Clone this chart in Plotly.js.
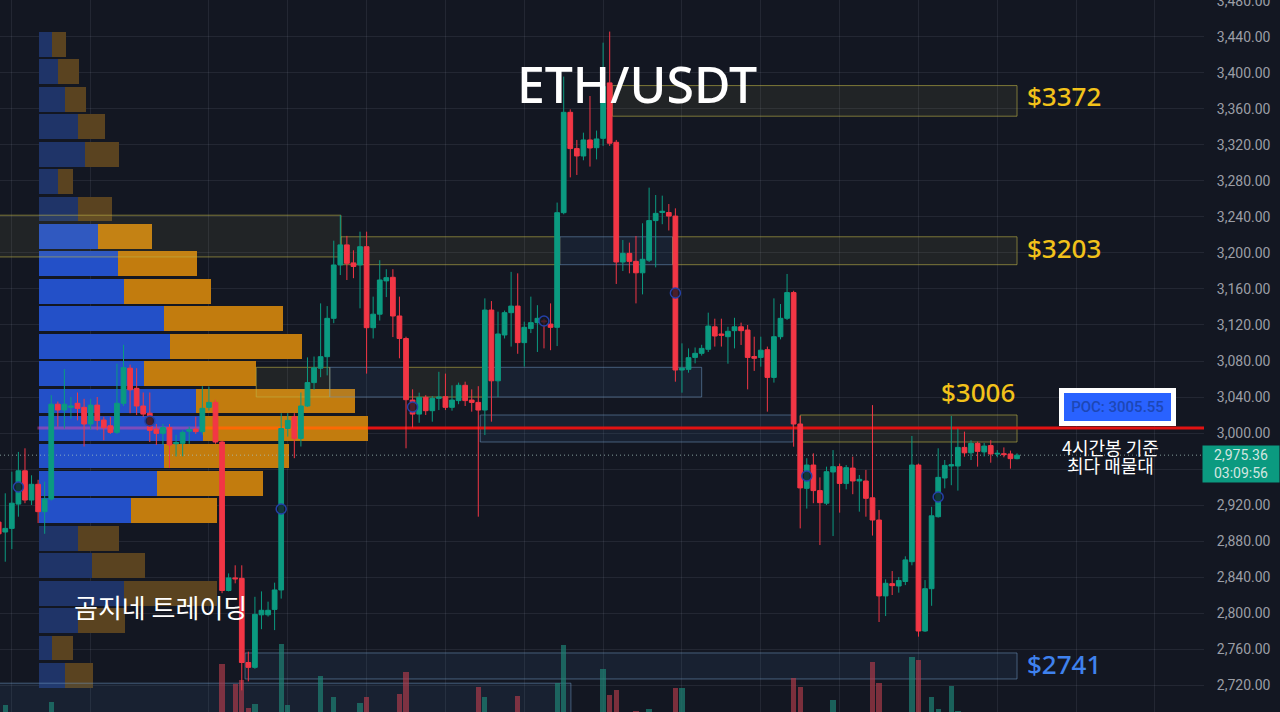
<!DOCTYPE html>
<html>
<head>
<meta charset="utf-8">
<script src="https://cdn.plot.ly/plotly-3.0.1.min.js"></script>
<style>html,body{margin:0;padding:0;background:#131722;overflow:hidden}</style>
</head>
<body>
<div id="chart" style="width:1280px;height:712px"></div>
<script>
// candles, oldest first (bar number = position in the array)
let opens = [
  2901,2890,2894,2921,2958,2925.5,2943,2912.6,2926.6,3032,
  3025.6,3028.5,3033,3028.5,3010,3031,3014.4,3008,3000.7,3033,
  3072,3049.6,3030,3022,3004.4,2999.6,3006,2988,2988.5,3002,
  3004.4,3001.5,3028.5,3034,2990,2825,2839,2838.5,2745,2739.6,
  2798,2798,2804,2825.6,3005,3018,2994,3030,3056,3072,
  3084.8,3127.4,3186.7,3209,3189,3186.7,3207,3117,3132,3169,
  3173,3130,3105,3036.6,3021,3039.6,3024.8,3038.5,3040.3,3028.5,
  3036,3053,3036.6,3034,3025.5,3136.6,3058,3108.9,3133.7,3141,
  3100.4,3116,3122.6,3124.6,3121,3117.4,3244.8,3356.3,3316,3307.8,
  3325.6,3317,3327.4,3389,3323,3190,3199.6,3190.7,3178,3192,
  3236,3245,3245,3241,3070,3070.7,3084,3088.5,3093,3118,
  3110,3107,3113.7,3118,3114.4,3085,3084,3092.5,3061.8,3107,
  3127.4,3156,3010,2938.5,2964.4,2936,2922,2956.7,2962.6,2944,
  2961,2946.7,2946.7,2928,2903.3,2819,2832.6,2830,2835,2857,
  2964.4,2780,2827,2907,2950,2963.3,2963.3,2984,2978,2988.5,
  2979,2986,2976.6,2977,2976.7,2971.5
];
let highs = [
  2908,2933,2957,2979,2983,2953,2948,2946,3042,3035,
  3071,3040,3045,3038,3038,3040,3018,3018,3077,3098,
  3076,3072,3045,3045,3010,3010,3010,2998,3003,3007,
  3018,3052,3051.5,3037,2992,2844,2853,2853,2757,2818,
  2824,2812.6,2833.7,3022,3022,3022,3045,3084,3085,3144,
  3141,3213.7,3242,3219,3203,3223.7,3223.7,3151.5,3192,3182,
  3182,3151.5,3107,3048.5,3044.8,3042,3041,3068,3066,3053,
  3056,3057,3048.5,3052,3149.6,3146.6,3134.8,3136,3179,3177.4,
  3123.7,3151.5,3142,3127,3144,3256,3396,3359.6,3325.6,3333.7,
  3374.4,3336,3433.7,3446,3325.6,3214.4,3211.5,3218.9,3233,3272.6,
  3264.4,3263.7,3254.4,3249.6,3099.6,3094,3095,3098,3133.7,3127,
  3127,3118,3128,3122.6,3120,3107,3107,3096,3149.6,3143.3,
  3176.7,3158,3019,2972,2977.4,2950.7,2962.6,2981,2966,2964.4,
  2973.7,2953.3,2959,3031,2914.4,2837.4,2846.6,2840,2863,2996.7,
  2966,2836.6,2918,2983,2970,3019,3005,3001.5,2992,2990.4,
  2989,2992,2981,2984,2980.4,2977.4
];
let lows = [
  2861,2857,2871,2907,2922,2920,2900,2888,2925,3007,
  3005,3016,3014,2985,3004,3003,2992,2999,2999,3030,
  3022,3020,3018,2990,2986.7,2986.7,2961,2974,2974,2988,
  2999,2998,3025,2988,2822,2824,2833,2714,2724,2738,
  2782,2796,2781,2816,2996,2972,2985,3029,3048,3062,
  3064,3122,3175.5,3170,3172,3138.5,3066,3105,3125,3151,
  3106.6,3083,2983,3006,3011.4,3020,3012.6,3025.5,3025.5,3024.8,
  3032,3030,3023.7,2907,2997.7,3012.6,3040,3105,3096,3088,
  3073.7,3111,3090,3094,3092,3096.6,3243,3284,3286.7,3303,
  3296,3304,3319,3319,3165.6,3180,3177.4,3144,3154,3190,
  3184,3232,3225,3057,3044.8,3067,3077.4,3086,3090,3096,
  3096,3077,3094,3097.8,3048.5,3069,3073.7,3023.7,3056,3104,
  3125.5,2984.8,2894,2916,2922,2875.5,2920,2885.5,2911.5,2937.4,
  2932,2912.6,2907,2886,2790,2796.6,2820,2822.6,2831,2853,
  2773.7,2779,2808,2906,2938.5,2942,2936,2973.7,2970,2962.6,
  2974,2967,2973,2973,2960.4,2970.7
];
let closes = [
  2888,2894,2922,2958,2925.5,2943,2912.6,2926.6,3032,3025.6,
  3032,3030,3027.4,3010,3031,3014,3006,3000.7,3033,3072.6,
  3048,3030,3021,3003,2999.6,3006,2986.7,2989.6,3000.7,3004,
  3001.5,3027.4,3034,2990,2825,2839,2838,2745,2739.6,2798.5,
  2803,2803,2825.6,3005,3014,2994,3030,3056,3072.6,3084.8,
  3127.4,3186.7,3209,3188.5,3185,3207,3117,3132,3170,3172.6,
  3130,3105,3037,3021,3039.6,3024.8,3038.5,3040,3028.5,3036.6,
  3053,3036,3034,3025.5,3136.6,3058,3110,3133.7,3141,3100.4,
  3117.4,3122.6,3127.4,3123.6,3117.4,3244.8,3356.3,3316,3307.8,3325.6,
  3316.7,3326.7,3385,3322,3190,3199.6,3190.7,3178,3193,3236,
  3244,3246.4,3241,3070,3072,3083.7,3088.5,3094,3118.8,3107.8,
  3108.5,3113,3118,3113.7,3084,3083,3092,3061.8,3107,3127.4,
  3156,3010,2939,2964.4,2936,2922.6,2957,2962.6,2944,2961.5,
  2946.7,2948.5,2927.4,2903.3,2819,2833,2830.4,2836,2859,2964.4,
  2780,2827,2908,2950.7,2964,2964.8,2984,2978,2988.5,2979.6,
  2985.5,2976.7,2977.4,2976,2971.5,2975.36
];
// only the tallest volume bars rise into the picture, the rest stay 0
let volumes = [
  0,7,0,0,0,0,0,0,10,0,
  0,0,0,0,0,0,0,0,0,0,
  0,0,0,0,0,0,0,0,0,0,
  0,0,0,0,48,0,28,32,4,8,
  0,0,0,68,7,0,0,0,0,36,
  0,15,0,0,0,9,15,0,0,0,
  0,18,40,0,0,0,0,0,0,0,
  0,0,0,25,15,0,0,0,0,16,
  0,0,0,0,0,29,67,0,0,0,
  0,0,43,17,22,0,0,1,0,3,
  0,0,0,24,24,0,0,0,0,0,
  0,0,0,0,0,0,0,0,0,0,
  0,34,25,0,0,0,0,12,0,0,
  0,0,0,50,29,0,0,0,0,55,
  52,0,15,3,0,26,1,0,0,0,
  0,0,0,0,0,0
];

// volume profile rows
let profilePrices = [3431.7,3401.2,3370.7,3340.3,3309.8,3279.3,3248.8,3218.3,3187.9,3157.4,3126.9,3096.4,
  3065.9,3035.5,3005.0,2974.5,2944.0,2913.5,2883.1,2852.6,2822.1,2791.6,2761.1,2730.7];
let profileBuy = [13,19,26,39,46,19,39,59,79,85,125,131,105,157,164,125,118,92,39,53,85,39,13,26];
let profileSell = [14,21,21,27,34,15,34,54,79,87,119,132,112,159,165,125,106,86,41,53,93,47,21,28];

// zones: first bar, last bar, top price, bottom price, kind
let zoneStart = [93.4,52.1,85.4,102.6,0,122,39.2,50.4,61.8,73.7,73.3,37.5,0];
let zoneEnd = [155,85.4,102.6,155,52.1,155,50.4,61.8,73.7,107,120.9,155,87.1];
let zoneTop = [3386,3218,3218,3218,3242,3020,3073,3073,3073,3073,3020,2755.6,2722];
let zoneBottom = [3352,3187,3187,3187,3195.6,2990,3040,3040,3040,3040,2990,2726.7,2680];
let zoneKind = ["y","y","b","y","y","y","y","b","y","b","b","b","b"];

// vwap style circles
let circleBars = [3,23,43,63,83,103,123,143];
let circlePrices = [2940,3013.3,2915.6,3028.9,3124.4,3155.6,2952.2,2928.9];

let gridBars = [2,14,32,44,56,68,80,92,104,116,128,140,152,164,176];
let priceTicks = [2720,2760,2800,2840,2880,2920,2960,3000,3040,3080,3120,3160,3200,3240,3280,3320,3360,3400,3440,3480];
let pocPrice = 3005.55;
let lastPrice = 2975.36;

const upColor = "#0b9a80";
const downColor = "#f23645";
const barRange = [0.2, 183.46];
const priceRange = [2690, 3481.1];

let bars = opens.map((v, i) => i);
let traces = [];

let brightRow = (i) => i >= 7 && i <= 17;
traces.push({
  type: "bar", orientation: "h", y: profilePrices, x: profileBuy, width: 27.6,
  marker: {color: profilePrices.map((p, i) => brightRow(i) ? "#2350c8" : "#1f3468")},
  xaxis: "x", yaxis: "y", hoverinfo: "skip"
});
traces.push({
  type: "bar", orientation: "h", y: profilePrices, x: profileSell, width: 27.6,
  marker: {color: profilePrices.map((p, i) => brightRow(i) ? "#c27c0e" : "#5a4320")},
  xaxis: "x", yaxis: "y", hoverinfo: "skip"
});

for (let i = 0; i < zoneStart.length; i++) {
  let yellow = zoneKind[i] == "y";
  traces.push({
    type: "scatter", mode: "lines", fill: "toself",
    x: [zoneStart[i], zoneEnd[i], zoneEnd[i], zoneStart[i], zoneStart[i]],
    y: [zoneTop[i], zoneTop[i], zoneBottom[i], zoneBottom[i], zoneTop[i]],
    line: {color: yellow ? "rgba(190,180,70,0.6)" : "rgba(110,150,190,0.55)", width: 1},
    fillcolor: yellow ? "rgba(220,210,100,0.07)" : "rgba(70,130,190,0.1)",
    xaxis: "x2", yaxis: "y", hoverinfo: "skip"
  });
}

// poc line changes tint over the profile rows
traces.push({type: "scatter", mode: "lines", x: [5.9, 31], y: [pocPrice, pocPrice],
  line: {color: "rgba(235,70,170,0.45)", width: 3}, xaxis: "x2", yaxis: "y", hoverinfo: "skip"});
traces.push({type: "scatter", mode: "lines", x: [31, 56.2], y: [pocPrice, pocPrice],
  line: {color: "#fb6a04", width: 3}, xaxis: "x2", yaxis: "y", hoverinfo: "skip"});
traces.push({type: "scatter", mode: "lines", x: [56.2, barRange[1]], y: [pocPrice, pocPrice],
  line: {color: "#e21212", width: 3}, xaxis: "x2", yaxis: "y", hoverinfo: "skip"});
traces.push({type: "scatter", mode: "lines", x: barRange, y: [lastPrice, lastPrice],
  line: {color: "rgba(170,200,195,0.75)", width: 1, dash: "1px 3px"}, xaxis: "x2", yaxis: "y", hoverinfo: "skip"});

traces.push({
  type: "bar", x: bars, y: volumes, width: 0.8,
  marker: {color: closes.map((c, i) => c >= opens[i] ? "rgba(30,130,115,0.7)" : "rgba(180,60,75,0.65)")},
  xaxis: "x2", yaxis: "y2", hoverinfo: "skip"
});

traces.push({
  type: "candlestick", x: bars, open: opens, high: highs, low: lows, close: closes,
  increasing: {line: {color: upColor, width: 1}, fillcolor: upColor},
  decreasing: {line: {color: downColor, width: 1}, fillcolor: downColor},
  whiskerwidth: 0, xaxis: "x3", yaxis: "y", hoverinfo: "skip"
});

traces.push({
  type: "scatter", mode: "markers", x: circleBars, y: circlePrices,
  marker: {size: 10, color: "rgba(19,23,34,0.75)", line: {color: "#2440a8", width: 1.5}},
  xaxis: "x3", yaxis: "y", hoverinfo: "skip"
});

function label(text, bar, price, font, extra) {
  return Object.assign({
    text: text, x: bar, y: price, xref: "x2", yref: "y", showarrow: false,
    xanchor: "center", yanchor: "middle", font: font
  }, extra || {});
}
let yellowFont = {family: "Noto Sans", size: 26, weight: 500, color: "#f2c21a"};
let koreanFont = {family: "Noto Sans CJK KR", size: 18, color: "#ffffff"};

let annotations = [
  label("$3372", 162.1, 3374.4, yellowFont),
  label("$3203", 162.1, 3205.4, yellowFont),
  label("$3006", 149.1, 3045.5, yellowFont),
  label("$2741", 162.1, 2743, {family: "Noto Sans", size: 26, weight: 500, color: "#3f82ee"}),
  label("곰지네 트레이딩", 24.6, 2807, {family: "Noto Sans CJK KR", size: 26, color: "#ffffff"}),
  label("4시간봉 기준", 169.3, 2984.4, koreanFont),
  label("최다 매물대", 169.3, 2964.4, koreanFont),
  label("POC: 3005.55", 170.3, 3028.5, {family: "Roboto", size: 15, weight: 500, color: "#1d47b5"},
    {bgcolor: "#2962ff", bordercolor: "#ffffff", borderwidth: 5, borderpad: 0, width: 107, height: 28}),
  {text: "2,975.36<br>03:09:56", xref: "paper", yref: "paper", x: 1241 / 1204, y: 1 - 464 / 712, showarrow: false,
    xanchor: "center", yanchor: "middle", bgcolor: "#0b9a80", width: 74, height: 34, align: "center",
    font: {family: "Roboto", size: 14, color: "#d3e6e1"}}
];

// 2,960 sits behind the last price tag, so it gets no label
let tickLabels = priceTicks.map(p => p == 2960 ? "" : p.toLocaleString("en-US", {minimumFractionDigits: 2}));

let layout = {
  width: 1280, height: 712,
  margin: {l: 0, r: 76, t: 0, b: 0, pad: 0},
  paper_bgcolor: "#131722", plot_bgcolor: "#131722",
  showlegend: false, barmode: "stack", boxgap: 0.28, boxgroupgap: 0, dragmode: false,
  title: {text: "ETH/USDT", x: 637 / 1280, xanchor: "center", y: 1 - 85 / 712, yanchor: "middle",
    font: {family: "Noto Sans", size: 50, weight: 500, color: "#ffffff"}},
  xaxis: {range: [-39, 1165], visible: false, fixedrange: true},
  xaxis2: {range: barRange, overlaying: "x", anchor: "y", tickmode: "array", tickvals: gridBars,
    showticklabels: false, ticks: "", showgrid: true, gridcolor: "rgba(200,210,230,0.09)", gridwidth: 1, zeroline: false, showline: false},
  xaxis3: {range: barRange, overlaying: "x", anchor: "y", visible: false, rangeslider: {visible: false}},
  yaxis: {range: priceRange, side: "right", tickmode: "array", tickvals: priceTicks, ticktext: tickLabels,
    ticks: "outside", ticklen: 9, tickcolor: "rgba(0,0,0,0)", ticklabeloverflow: "allow",
    tickfont: {family: "Roboto", size: 14, color: "#9b9ea6"},
    showgrid: true, gridcolor: "rgba(200,210,230,0.09)", gridwidth: 1, zeroline: false, showline: false},
  yaxis2: {range: [0, 712], overlaying: "y", anchor: "x2", visible: false},
  annotations: annotations
};

Plotly.newPlot("chart", traces, layout, {displayModeBar: false, staticPlot: true});
</script>
</body>
</html>
